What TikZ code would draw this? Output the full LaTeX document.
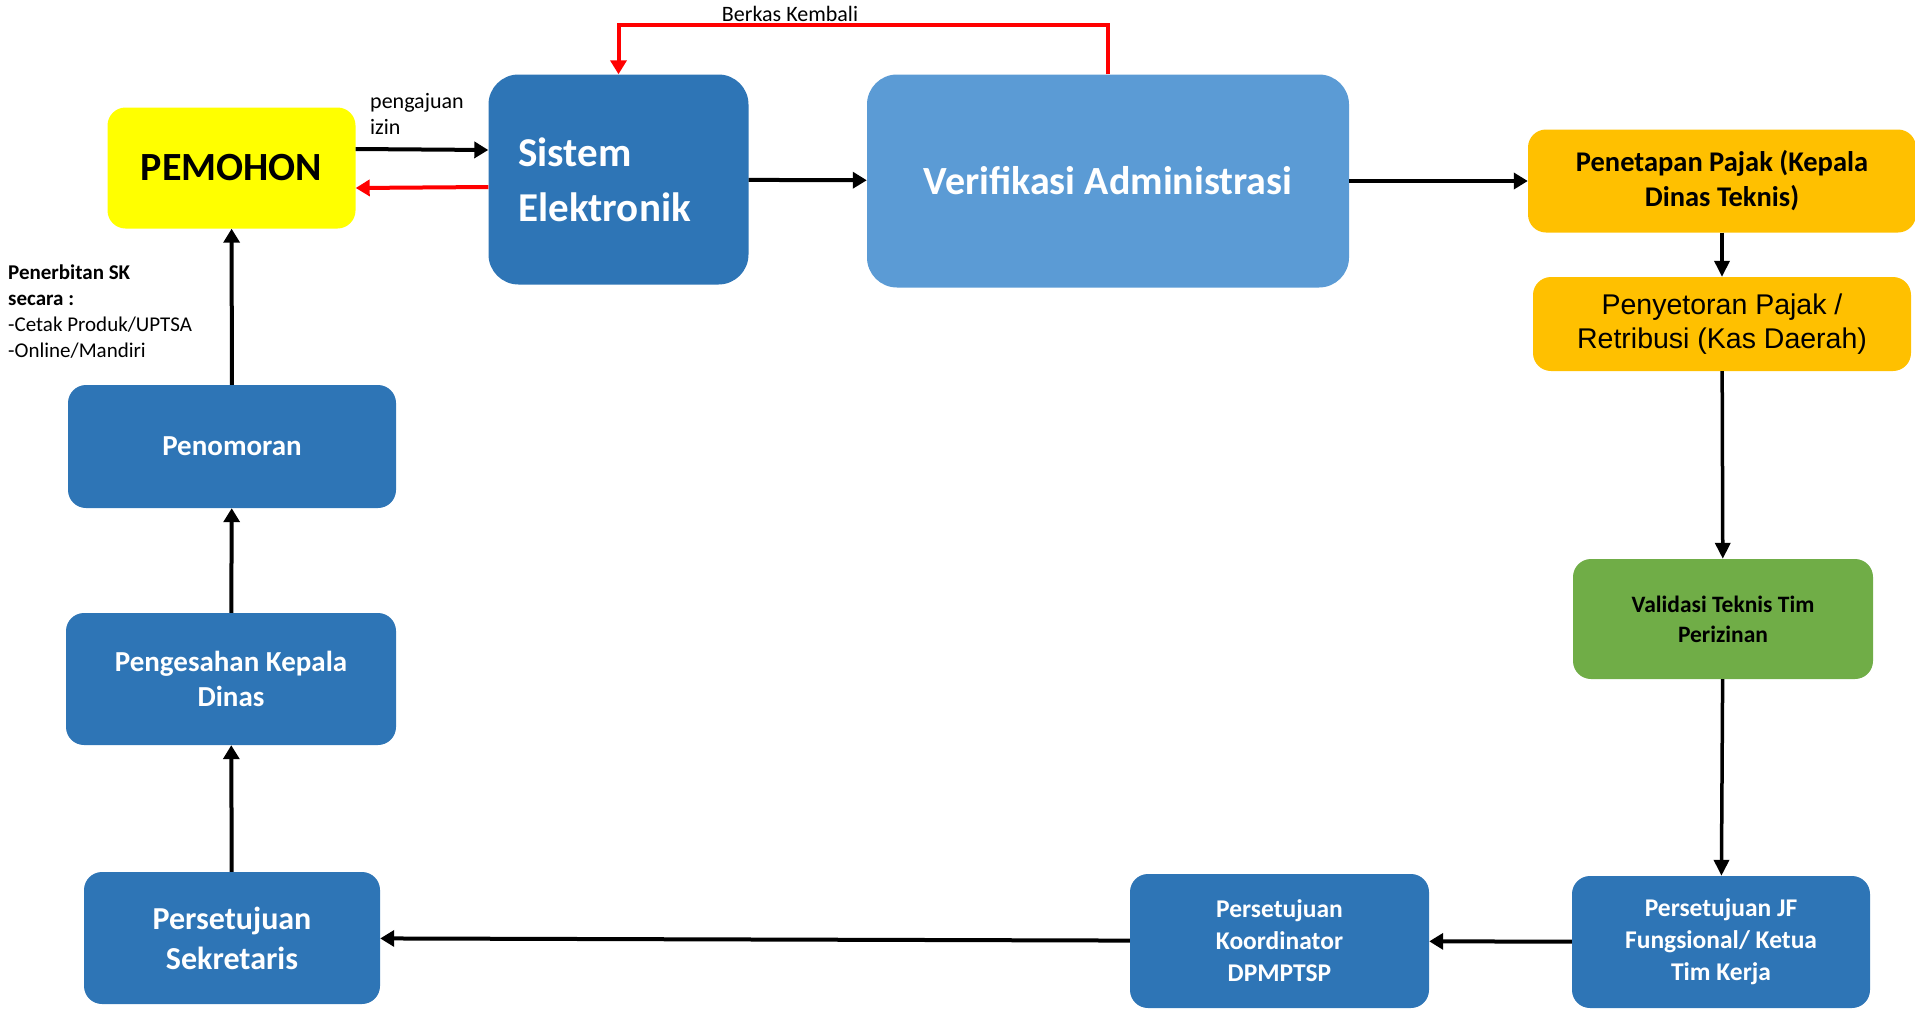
\documentclass[tikz,border=0pt]{standalone}
\usepackage{fontspec}
\setmainfont{Carlito}
\newfontfamily\arialf{Liberation Sans}
\usetikzlibrary{arrows.meta}
\definecolor{dblue}{HTML}{2E75B6}
\definecolor{lblue}{HTML}{5B9BD5}
\definecolor{gold}{HTML}{FFC000}
\definecolor{lgreen}{HTML}{70AD47}
\definecolor{yel}{HTML}{FFFF00}
\definecolor{rd}{HTML}{FF0000}
\begin{document}
\begin{tikzpicture}[x=1pt,y=-1pt,
  box/.style={rounded corners=18pt, align=center, inner sep=0pt, font=\bfseries},
  bluebox/.style={box, fill=dblue, text=white},
  arr/.style={line width=4pt, -{Triangle[length=14pt,width=16pt]}},
  tarr/.style={line width=3.5pt, -{Triangle[length=16pt,width=15pt]}},
  redarr/.style={arr, draw=rd, color=rd},
  lbl/.style={inner sep=0pt, align=left, font=\fontsize{22}{26}\selectfont}
]
\useasboundingbox (0,0) rectangle (1915,1010);

\node[box, fill=yel, minimum width=248pt, minimum height=121pt, font=\bfseries\fontsize{40}{48}\selectfont] (pem) at (231.5,168) {PEMOHON};
\node[bluebox, rounded corners=30pt, minimum width=260pt, minimum height=210pt, text width=200pt, align=left, font=\bfseries\fontsize{41}{55}\selectfont] (sis) at (618.5,179.5) {Sistem\\Elektronik};
\node[box, fill=lblue, text=white, rounded corners=30pt, minimum width=482pt, minimum height=213pt, font=\bfseries\fontsize{40}{48}\selectfont] (ver) at (1108,181) {Verifikasi Administrasi};
\node[box, fill=gold, minimum width=388pt, minimum height=103pt, font=\bfseries\fontsize{28.5}{35}\selectfont] (pen) at (1722,181) {Penetapan Pajak (Kepala\\Dinas Teknis)};
\node[box, fill=gold, minimum width=378pt, minimum height=94pt, font=\arialf\fontsize{28.5}{34}\selectfont] (pys) at (1722,324) {Penyetoran Pajak /\\Retribusi (Kas Daerah)};
\node[box, fill=lgreen, minimum width=300pt, minimum height=120pt, font=\bfseries\fontsize{23.5}{30}\selectfont] (val) at (1723,619) {Validasi Teknis Tim\\Perizinan};
\node[bluebox, minimum width=298pt, minimum height=132pt, font=\bfseries\fontsize{25.5}{32}\selectfont] (jf) at (1721,942) {Persetujuan JF\\Fungsional/ Ketua\\Tim Kerja};
\node[bluebox, minimum width=299pt, minimum height=134pt, font=\bfseries\fontsize{25.5}{32}\selectfont] (kor) at (1279.5,941) {Persetujuan\\Koordinator\\DPMPTSP};
\node[bluebox, minimum width=296pt, minimum height=132pt, font=\bfseries\fontsize{32}{40}\selectfont] (sek) at (232,938) {Persetujuan\\Sekretaris};
\node[bluebox, minimum width=330pt, minimum height=132pt, font=\bfseries\fontsize{29}{35}\selectfont] (pgs) at (231,679) {Pengesahan Kepala\\Dinas};
\node[bluebox, minimum width=328pt, minimum height=123pt, font=\bfseries\fontsize{29}{35}\selectfont] (pno) at (232,446.5) {Penomoran};

\node[lbl, anchor=north west] (lblpi) at (370,93) {pengajuan\\izin};
\node[lbl] (lblbk) at (790,14) {Berkas Kembali};
\node[lbl, anchor=north west, font=\fontsize{21}{26}\selectfont] (lblsk) at (8,265) {\textbf{Penerbitan SK}\\\textbf{secara :}\\-Cetak Produk/UPTSA\\-Online/Mandiri};

\coordinate (bk) at (0,25);
\draw[arr] ([yshift=19pt]pem.east) -- ([yshift=29.5pt]sis.west);
\draw[redarr] ([yshift=-7.5pt]sis.west) -- ([yshift=-20pt]pem.east);
\draw[redarr] (ver.north) -- (ver.north |- bk) -| (sis.north);
\draw[arr] (sis) -- (ver);
\draw[arr] (ver) -- (pen);
\draw[tarr] (pen) -- (pys);
\draw[tarr] (pys) -- (val);
\draw[tarr] (val) -- (jf);
\draw[arr] (jf) -- (kor);
\draw[arr] (kor) -- (sek);
\draw[arr] (sek) -- (pgs);
\draw[arr] (pgs) -- (pno);
\draw[arr] (pno) -- (pem);
\end{tikzpicture}
\end{document}
